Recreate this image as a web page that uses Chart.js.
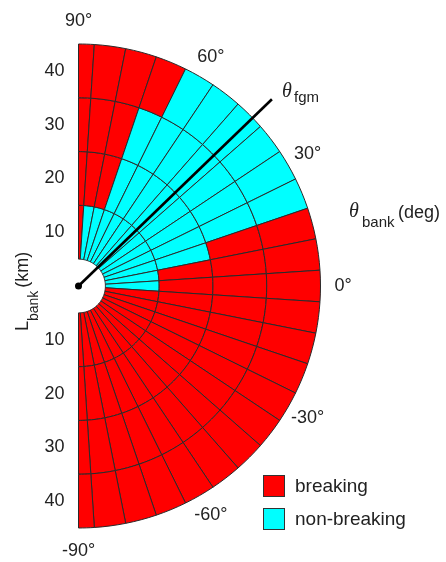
<!DOCTYPE html>
<html>
<head>
<meta charset="utf-8">
<script src="https://cdn.jsdelivr.net/npm/chart.js@4.4.0/dist/chart.umd.min.js"></script>
<style>
    body { margin: 0; background: #fff; }
    #wrap { position: relative; width: 446px; height: 562px; }
</style>
</head>
<body>
<div id="wrap"><canvas id="bankChart"></canvas></div>
<script>
// theta_bank cell edges (deg), from top (90) clockwise to bottom (-90)
const thetaEdges = [90, 86.25, 78.75, 71.25, 63.75, 56.25, 48.75, 41.25, 33.75, 26.25, 18.75, 11.25, 3.75,
    -3.75, -11.25, -18.75, -26.25, -33.75, -41.25, -48.75, -56.25, -63.75, -71.25, -78.75, -86.25, -90];

// L_bank ring edges (km), outer to inner
const ringEdges = [45, 35, 25, 15, 5];

// 1 = breaking, 0 = non-breaking (one value per theta cell, 90 -> -90)
const ring35to45 = [1, 1, 1, 1, 0, 0, 0, 0, 0, 0, 1, 1, 1, 1, 1, 1, 1, 1, 1, 1, 1, 1, 1, 1, 1];
const ring25to35 = [1, 1, 1, 0, 0, 0, 0, 0, 0, 0, 1, 1, 1, 1, 1, 1, 1, 1, 1, 1, 1, 1, 1, 1, 1];
const ring15to25 = [1, 1, 1, 0, 0, 0, 0, 0, 0, 0, 0, 1, 1, 1, 1, 1, 1, 1, 1, 1, 1, 1, 1, 1, 1];
const ring5to15  = [1, 0, 0, 0, 0, 0, 0, 0, 0, 0, 0, 0, 0, 1, 1, 1, 1, 1, 1, 1, 1, 1, 1, 1, 1];
const rings = [ring35to45, ring25to35, ring15to25, ring5to15];

const thetaFgm = 44;      // deg
const fgmLength = 50;     // km
const lbankTicks = [10, 20, 30, 40];
const thetaTicks = [90, 60, 30, 0, -30, -60, -90];
const legendLabels = ['breaking', 'non-breaking'];

const RED = '#ff0000';
const CYAN = '#00ffff';
const GRID = '#2a2a2a';
const TEXT = '#222222';

const cellWidths = thetaEdges.slice(1).map((e, i) => thetaEdges[i] - e);
const cellLabels = thetaEdges.slice(1).map((e, i) => `${thetaEdges[i]}..${e}`);

// labels, fgm line and legend drawn on top of the rings
const overlayPlugin = {
    id: 'overlay',
    afterDatasetsDraw(chart) {
        const ctx = chart.ctx;
        const arc = chart.getDatasetMeta(0).data[0];
        const cx = arc.x, cy = arc.y;
        const k = arc.outerRadius / ringEdges[0];
        const rad = d => d * Math.PI / 180;

        ctx.save();

        // theta_fgm line
        ctx.strokeStyle = '#000';
        ctx.lineWidth = 2.6;
        ctx.beginPath();
        ctx.moveTo(cx, cy);
        ctx.lineTo(cx + fgmLength * k * Math.cos(rad(thetaFgm)), cy - fgmLength * k * Math.sin(rad(thetaFgm)));
        ctx.stroke();
        ctx.fillStyle = '#000';
        ctx.beginPath();
        ctx.arc(cx, cy, 3.5, 0, Math.PI * 2);
        ctx.fill();

        // L_bank tick labels
        ctx.fillStyle = TEXT;
        ctx.font = '18px "Liberation Sans", Arial, sans-serif';
        ctx.textAlign = 'right';
        ctx.textBaseline = 'middle';
        lbankTicks.forEach(v => {
            ctx.fillText(String(v), cx - 14, cy - v * k);
            ctx.fillText(String(v), cx - 14, cy + v * k);
        });

        // theta tick labels
        ctx.textAlign = 'center';
        const rl = 49.2 * k;
        thetaTicks.forEach(t => {
            ctx.fillText(t + '°', cx + rl * Math.cos(rad(t)), cy - rl * Math.sin(rad(t)));
        });

        // theta_bank (deg)
        ctx.textAlign = 'left';
        ctx.textBaseline = 'alphabetic';
        ctx.font = 'italic 20px "Liberation Serif", "Times New Roman", serif';
        ctx.fillText('θ', 349, 217);
        ctx.font = '15px "Liberation Sans", Arial, sans-serif';
        ctx.fillText('bank', 362, 227);
        ctx.font = '18px "Liberation Sans", Arial, sans-serif';
        ctx.fillText('(deg)', 398, 218);

        // theta_fgm
        ctx.font = 'italic 20px "Liberation Serif", "Times New Roman", serif';
        ctx.fillText('θ', 282, 97);
        ctx.font = '15px "Liberation Sans", Arial, sans-serif';
        ctx.fillText('fgm', 294, 102);

        // L_bank (km), rotated
        ctx.save();
        ctx.translate(28, 331);
        ctx.rotate(-Math.PI / 2);
        ctx.font = '18px "Liberation Sans", Arial, sans-serif';
        ctx.fillText('L', 0, 0);
        let w = ctx.measureText('L').width;
        ctx.font = '14px "Liberation Sans", Arial, sans-serif';
        ctx.fillText('bank', w, 10);
        w += ctx.measureText('bank').width + 3;
        ctx.font = '18px "Liberation Sans", Arial, sans-serif';
        ctx.fillText('(km)', w, 0);
        ctx.restore();

        // legend
        ctx.font = '19px "Liberation Sans", Arial, sans-serif';
        ctx.textBaseline = 'middle';
        [RED, CYAN].forEach((c, i) => {
            const y = 475 + i * 33;
            ctx.fillStyle = c;
            ctx.fillRect(263, y, 22, 22);
            ctx.strokeStyle = '#333';
            ctx.lineWidth = 1;
            ctx.strokeRect(263.5, y + 0.5, 21, 21);
            ctx.fillStyle = TEXT;
            ctx.fillText(legendLabels[i], 295, y + 12);
        });

        ctx.restore();
    }
};

const ctx = document.getElementById('bankChart').getContext('2d');
const bankChart = new Chart(ctx, {
    type: 'doughnut',
    data: {
        labels: cellLabels,
        datasets: rings.map((flags, i) => ({
            label: `${ringEdges[i + 1]}-${ringEdges[i]} km`,
            data: cellWidths,
            weight: ringEdges[i] - ringEdges[i + 1],
            backgroundColor: flags.map(f => f ? RED : CYAN),
            borderColor: GRID,
            borderWidth: 1,
            hoverBorderWidth: 1,
            hoverOffset: 0,
            offset: 0
        }))
    },
    options: {
        responsive: true,
        maintainAspectRatio: false,
        animation: false,
        events: [],
        rotation: 0,
        circumference: 180,
        cutout: (ringEdges[4] / ringEdges[0] * 100) + '%',
        layout: {
            padding: { left: 78, top: 43, right: 125, bottom: 33 }
        },
        plugins: {
            legend: { display: false },
            tooltip: { enabled: false }
        }
    },
    plugins: [overlayPlugin]
});
</script>
</body>
</html>
